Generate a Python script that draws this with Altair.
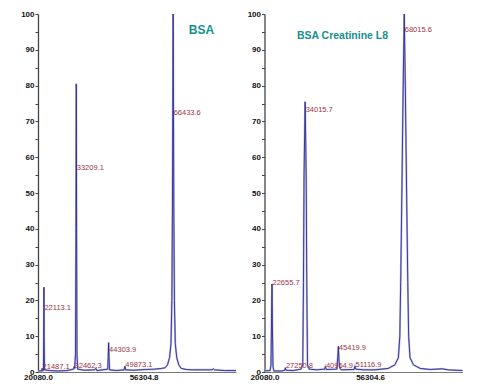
import altair as alt
import pandas as pd

# ---------------- data ----------------
# Left panel: BSA deconvoluted spectrum (mass in Da, relative intensity %)
bsa_mass = [20080, 21300, 21487.1, 21700, 21950, 22050, 22113.1, 22180, 22300, 24000,
            27000, 30000, 32300, 32462.3, 32650, 32950, 33100, 33209.1, 33320, 33450,
            33700, 36000, 39500, 39900, 40300, 44000, 44150, 44303.9, 44450, 44650,
            47000, 49600, 49873.1, 50150, 53000, 57000, 60000, 62500, 63700, 64500,
            65200, 65700, 66000, 66200, 66350, 66433.6, 66520, 66670, 66870, 67170,
            67670, 68370, 69200, 71000, 73000, 76000, 79800, 80200, 80600, 84000, 88000]
bsa_int = [0.3, 0.3, 1.0, 0.3, 0.5, 10, 23.7, 10, 0.6, 0.4,
           0.3, 0.4, 0.8, 1.5, 1.0, 5, 40, 80.5, 40, 5,
           0.8, 0.5, 0.6, 1.0, 0.4, 0.8, 4, 8.2, 4, 0.6,
           0.4, 0.6, 1.6, 0.6, 0.5, 0.7, 0.8, 1.0, 1.2, 2.0,
           4, 8, 20, 45, 80, 100, 80, 45, 20, 8,
           4, 2.0, 1.0, 0.7, 0.6, 0.6, 0.6, 0.9, 0.6, 0.4, 0.4]

# Right panel: BSA Creatinine L8
cre_mass = [20080, 22000, 22300, 22500, 22655.7, 22800, 23000, 23300, 26000, 27050,
            27250.8, 27450, 30000, 32600, 33200, 33450, 33650, 34015.7, 34380, 34580,
            34830, 35400, 38000, 40700, 40964.9, 41250, 44900, 45200, 45419.9, 45650,
            46000, 46500, 50800, 51116.9, 51400, 54000, 58000, 62500, 64800, 66000,
            66500, 66800, 67200, 67650, 68015.6, 68380, 68830, 69230, 69530, 70000,
            71200, 73500, 77000, 81000, 83000, 88000]
cre_int = [0.3, 0.4, 2, 15, 24.6, 12, 1.5, 0.3, 0.3, 0.5,
           1.2, 0.5, 0.4, 0.8, 2, 25, 55, 75.5, 55, 25,
           2, 0.8, 0.6, 0.8, 1.5, 0.7, 0.8, 4, 7.2, 3,
           0.9, 0.6, 0.7, 1.6, 0.8, 0.6, 0.6, 1.0, 2.0, 4,
           10, 25, 50, 80, 100, 80, 50, 25, 10, 4,
           2, 1.0, 0.7, 0.9, 0.6, 0.4]

# Peak annotations: label text, mass, intensity level of the label
bsa_labels = ["22113.1", "21487.1", "32462.3", "33209.1", "44303.9", "49873.1", "66433.6"]
bsa_label_mass = [22113.1, 21487.1, 32462.3, 33209.1, 44303.9, 49873.1, 66433.6]
bsa_label_level = [18.0, 1.4, 1.6, 57.0, 6.1, 2.0, 72.4]

cre_labels = ["22655.7", "27250.8", "34015.7", "40964.9", "45419.9", "51116.9", "68015.6"]
cre_label_mass = [22655.7, 27250.8, 34015.7, 40964.9, 45419.9, 51116.9, 68015.6]
cre_label_level = [24.8, 1.8, 73.3, 1.8, 6.6, 2.0, 95.6]

titles = ["BSA", "BSA Creatinine L8"]
x_ticks_left = [20080.0, 56304.8]
x_ticks_right = [20080.0, 56304.6]
y_ticks = list(range(0, 101, 5))

X_DOMAIN = [20080, 88000]
W, H = 198, 358
LINE = "#2a2a98"
GLOW = "#b8b8e0"
LABEL = "#9a3545"
TEAL = "#17908e"
FONT = "Liberation Sans"


def panel(mass, inten, labels, lmass, llevel, xticks, title, tx, ty, tsize):
    spec = pd.DataFrame({"mass": mass, "intensity": inten})
    lab = pd.DataFrame({"text": labels, "mass": lmass, "intensity": llevel})
    xs = alt.Scale(domain=X_DOMAIN, nice=False, zero=False)
    ys = alt.Scale(domain=[0, 100], nice=False)
    x = alt.X("mass:Q", scale=xs, title=None,
              axis=alt.Axis(values=xticks, format=".1f"))
    y = alt.Y("intensity:Q", scale=ys, title=None,
              axis=alt.Axis(values=y_ticks,
                            labelExpr="datum.value % 10 == 0 ? datum.label : ''"))
    glow = alt.Chart(spec).mark_line(color=GLOW, strokeWidth=2.0).encode(x=x, y=y)
    line = alt.Chart(spec).mark_line(color=LINE, strokeWidth=0.9).encode(x=x, y=y)
    txt = alt.Chart(lab).mark_text(align="left", baseline="middle", dx=0.5,
                                   fontSize=7.5, font=FONT, color=LABEL).encode(
        x=x, y=y, text="text:N")
    ttl = alt.Chart(pd.DataFrame({"t": [title]})).mark_text(
        align="center", baseline="middle", fontSize=tsize, fontWeight="bold",
        font=FONT, color=TEAL).encode(x=alt.value(tx), y=alt.value(ty), text="t:N")
    return alt.layer(glow, line, txt, ttl).properties(
        width=W, height=H, view=alt.ViewBackground(stroke="transparent", strokeWidth=0))


left = panel(bsa_mass, bsa_int, bsa_labels, bsa_label_mass, bsa_label_level,
             x_ticks_left, titles[0], 163.5, 16, 12)
right = panel(cre_mass, cre_int, cre_labels, cre_label_mass, cre_label_level,
              x_ticks_right, titles[1], 78, 22, 10.5)

chart = alt.hconcat(left, right, spacing=6.5).properties(
    padding={"left": 12, "top": 2, "right": 0, "bottom": 0},
    background="white"
).configure_view(
    strokeWidth=0, stroke="transparent"
).configure_axisX(
    labelFlush=False, ticks=False, grid=False, labelOverlap=False,
    labelFontSize=8, labelFontWeight="bold", labelFont=FONT,
    labelColor="#111", labelPadding=1, domainColor="#777", domainWidth=1
).configure_axisY(
    tickSize=3, grid=False, labelOverlap=False,
    labelFontSize=8, labelFontWeight="bold", labelFont=FONT,
    labelColor="#111", labelPadding=1, domainColor="#444", domainWidth=1.3,
    tickColor="#444", minExtent=18, maxExtent=18
)

chart.save("out.html", embed_options={"renderer": "svg", "actions": False})
